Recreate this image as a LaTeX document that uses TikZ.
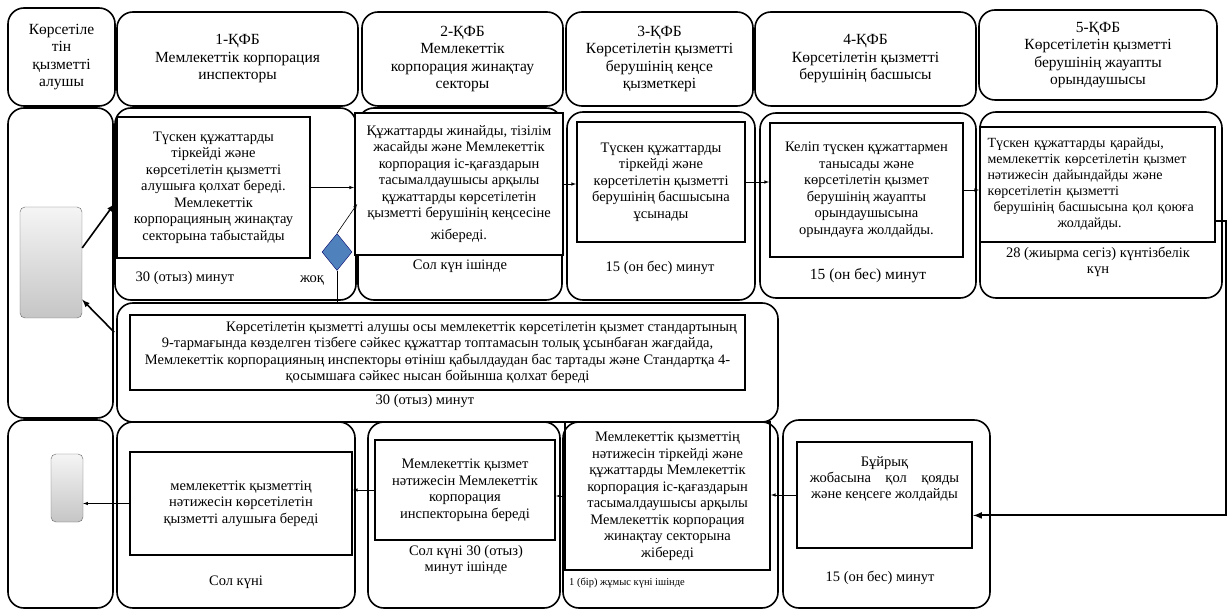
\documentclass[tikz,border=0pt]{standalone}
\usepackage{fontspec}
\setmainfont{Liberation Serif}
\usetikzlibrary{shapes.geometric,calc}
\definecolor{dblue}{RGB}{79,129,189}

\begin{document}
\begin{tikzpicture}[
    x=1pt, y=-1pt,
    lane/.style={rectangle, draw, line width=1.6pt, rounded corners=16pt, inner sep=0pt},
    head/.style={lane, align=center, font=\fontsize{15.5}{17.5}\selectfont},
    box/.style={rectangle, draw, line width=2pt, fill=white, align=center, inner sep=0pt, font=\fontsize{14.5}{16.5}\selectfont},
    note/.style={align=center, font=\fontsize{14.5}{16}\selectfont},
    client/.style={rectangle, draw=gray!80!black, rounded corners=5pt, top color=gray!8, bottom color=gray!45},
    arrow/.style={-latex, line width=0.6pt},
    bigarrow/.style={-latex, line width=1.6pt}
]
    \useasboundingbox (0,0) rectangle (1227,612);

    % header
    \node [head, minimum width=107pt, minimum height=98pt] (h0) at (61.5,57) {Көрсетіле\\тін\\қызметті\\алушы};
    \node [head, minimum width=241pt, minimum height=94pt] (h1) at (237.5,59) {1-ҚФБ\\Мемлекеттік корпорация\\инспекторы};
    \node [head, minimum width=201pt, minimum height=94pt] (h2) at (462.5,59) {2-ҚФБ\\Мемлекеттік\\корпорация жинақтау\\секторы};
    \node [head, minimum width=187pt, minimum height=94pt] (h3) at (659.5,59) {3-ҚФБ\\Көрсетілетін қызметті\\берушінің кеңсе\\қызметкері};
    \node [head, minimum width=221pt, minimum height=94pt] (h4) at (865.5,59) {4-ҚФБ\\Көрсетілетін қызметті\\берушінің басшысы};
    \node [head, minimum width=238pt, minimum height=90pt] (h5) at (1098,55) {5-ҚФБ\\Көрсетілетін қызметті\\берушінің жауапты\\орындаушысы};

    % lanes
    \node [lane, minimum width=105pt, minimum height=310pt] (l0) at (60.5,263) {};
    \node [lane, minimum width=241pt, minimum height=192pt] (l1) at (235.5,204) {};
    \node [lane, minimum width=204pt, minimum height=192pt] (l2) at (460,204) {};
    \node [lane, minimum width=188pt, minimum height=188pt] (l3) at (661,206) {};
    \node [lane, minimum width=216pt, minimum height=185pt] (l4) at (868,205.5) {};
    \node [lane, minimum width=242pt, minimum height=186pt] (l5) at (1101,205) {};
    \node [lane, minimum width=661pt, minimum height=119pt] (ref) at (447.5,362.5) {};
    \node [lane, minimum width=105pt, minimum height=188pt] (b0) at (60.5,514) {};
    \node [lane, minimum width=238pt, minimum height=186pt] (b1) at (236,515) {};
    \node [lane, minimum width=192pt, minimum height=186pt] (b2) at (464,515) {};
    \node [lane, minimum width=215pt, minimum height=186pt] (b3) at (670.5,515) {};
    \node [lane, minimum width=207pt, minimum height=188pt] (b4) at (886.5,514) {};

    \node [client, minimum width=62pt, minimum height=111pt] (g1) at (51,262.5) {};
    \node [client, minimum width=32pt, minimum height=68pt] (g2) at (67,488) {};

    % steps
    \node [box, minimum width=193pt, minimum height=141pt] (i1) at (213.5,187.5) {Түскен құжаттарды\\тіркейді және\\көрсетілетін қызметті\\алушыға қолхат береді.\\Мемлекеттік\\корпорацияның жинақтау\\секторына табыстайды};
    \node [box, minimum width=208pt, minimum height=142pt] (i2) at (459,184) {Құжаттарды жинайды, тізілім\\жасайды және Мемлекеттік\\корпорация іс-қағаздарын\\тасымалдаушысы арқылы\\құжаттарды көрсетілетін\\қызметті берушінің кеңсесіне\\[5pt]жібереді.};
    \node [box, minimum width=168pt, minimum height=120pt] (i3) at (661,182) {Түскен құжаттарды\\тіркейді және\\көрсетілетін қызметті\\берушінің басшысына\\ұсынады};
    \node [box, minimum width=193pt, minimum height=134pt] (i4) at (866.5,190) {Келіп түскен құжаттармен\\танысады және\\көрсетілетін қызмет\\берушінің жауапты\\орындаушысына\\орындауға жолдайды.};
    \node [box, minimum width=235pt, minimum height=115pt, text width=220pt, align=left, font=\fontsize{14}{16}\selectfont] (i5) at (1097.5,184.5) {Түскен құжаттарды қарайды,\\мемлекеттік көрсетілетін қызмет\\нәтижесін дайындайды және\\көрсетілетін қызметті\\\hspace*{6pt}берушінің басшысына қол қоюға\\\hspace*{70pt}жолдайды.};
    \node [box, minimum width=615pt, minimum height=75pt] (ir) at (437.5,352.5) {\hspace*{88pt}Көрсетілетін қызметті алушы осы мемлекеттік көрсетілетін қызмет стандартының\\9-тармағында көзделген тізбеге сәйкес құжаттар топтамасын толық ұсынбаған жағдайда,\\Мемлекеттік корпорацияның инспекторы өтініш қабылдаудан бас тартады және Стандартқа 4-\\қосымшаға сәйкес нысан бойынша қолхат береді};
    \node [box, minimum width=222pt, minimum height=103pt] (ib1) at (241,503.5) {мемлекеттік қызметтің\\нәтижесін көрсетілетін\\қызметті алушыға береді};
    \node [box, minimum width=180pt, minimum height=100pt] (ib2) at (465,490) {Мемлекеттік қызмет\\нәтижесін Мемлекеттік\\корпорация\\инспекторына береді};
    \node [box, fill=none, minimum width=205pt, minimum height=148pt] (ib3) at (667.5,496) {Мемлекеттік қызметтің\\нәтижесін тіркейді және\\құжаттарды Мемлекеттік\\корпорация іс-қағаздарын\\тасымалдаушысы арқылы\\Мемлекеттік корпорация\\жинақтау секторына\\жібереді};
    \node [box, minimum width=175pt, minimum height=106pt] (ib4) at (884.5,495) {};
    \node [note] (tx4) at (884.5,479) {Бұйрық\\жобасына\quad қол\quad қояды\\және кеңсеге жолдайды};

    \node [diamond, draw=blue!40!black, fill=dblue, minimum width=30pt, minimum height=37pt, inner sep=0pt] (d) at (337,252) {};

    % times
    \node [note] (t1) at (185,278) {30 (отыз) минут};
    \node [note] (no) at (312,280) {жоқ};
    \node [note] (t2) at (460,266) {Сол күн ішінде};
    \node [note] (t3) at (660,268) {15 (он бес) минут};
    \node [note, font=\fontsize{15.5}{17}\selectfont] (t4) at (868,276) {15 (он бес) минут};
    \node [note] (t5) at (1098,262) {28 (жиырма сегіз) күнтізбелік\\күн};
    \node [note] (tr) at (425,401) {30 (отыз) минут};
    \node [note] (tb1) at (236,582) {Сол күні};
    \node [note] (tb2) at (466,560) {Сол күні 30 (отыз)\\минут ішінде};
    \node [note, font=\fontsize{10.5}{12}\selectfont] (tb3) at (627,583) {1 (бір) жұмыс күні ішінде};
    \node [note] (tb4) at (880,578) {15 (он бес) минут};

    \draw [bigarrow] (g1.25) -- (l1.west);
    \draw [bigarrow] ($(ref.north west)+(-2,30)$) -- (g1.-50);
    \draw [arrow] (i1.east) -- (i1.east -| i2.west);
    \draw [arrow] (i2.east) -- (i2.east -| i3.west);
    \draw [arrow] (i3.east) -- (i3.east -| i4.west);
    \draw [arrow] (i4.east) -- (i4.east -| i5.west);
    \draw [arrow] (d.north) -- (l2.west);
    \draw [line width=0.6pt] (d.south) -- (d.south |- ref.north);
    \draw [bigarrow, line width=2pt] (i5.-17) -- ++(10,0) |- (ib4.-13.5);
    \draw [arrow] (ib4.west) -- (ib4.west -| ib3.east);
    \draw [arrow] (ib3.west) -- (ib3.west -| ib2.east);
    \draw [arrow] (ib2.west) -- (ib2.west -| ib1.east);
    \draw [arrow] (ib1.west) -- (ib1.west -| g2.east);

\end{tikzpicture}
\end{document}
